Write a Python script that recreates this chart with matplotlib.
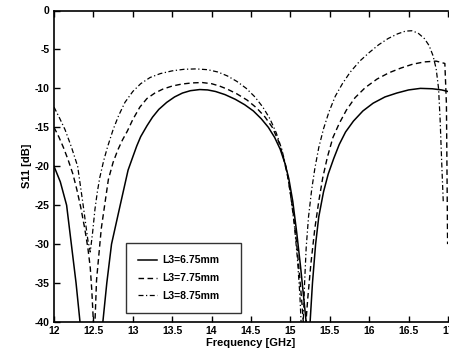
import matplotlib
matplotlib.use("Agg")
import matplotlib.pyplot as plt

plt.rcParams['font.family'] = ['Liberation Sans', 'DejaVu Sans']

# L3 = 6.75 mm (solid)
f_a = [12.00, 12.08, 12.16, 12.22, 12.28, 12.33, 12.40, 12.50, 12.58, 12.62, 12.67, 12.73, 12.84,
       12.94, 13.00, 13.05, 13.10, 13.18, 13.25, 13.33, 13.43, 13.53, 13.63, 13.73, 13.85, 13.95,
       14.05, 14.17, 14.30, 14.42, 14.53, 14.63, 14.72, 14.80, 14.87, 14.93, 14.98, 15.03, 15.08,
       15.13, 15.17, 15.20, 15.22, 15.25, 15.28, 15.32, 15.36, 15.42, 15.48, 15.55, 15.62, 15.70,
       15.80, 15.92, 16.05, 16.20, 16.35, 16.50, 16.65, 16.80, 16.92, 17.00]
s_a = [-20.0, -22.0, -25.0, -30.0, -35.0, -40.0, -44.0, -46.0, -44.0, -40.0, -35.0, -30.0, -25.0,
       -20.5, -18.8, -17.4, -16.2, -14.8, -13.7, -12.7, -11.8, -11.1, -10.6, -10.3, -10.15, -10.2,
       -10.4, -10.8, -11.4, -12.1, -12.9, -13.9, -15.0, -16.3, -17.8, -19.6, -21.6, -24.5, -28.5,
       -33.0, -37.0, -40.0, -43.0, -40.0, -35.0, -30.0, -26.5, -23.3, -21.0, -19.0, -17.2, -15.6,
       -14.2, -12.9, -11.9, -11.1, -10.6, -10.2, -10.0, -10.05, -10.2, -10.4]

# L3 = 7.75 mm (dashed)
f_b = [12.00, 12.06, 12.12, 12.18, 12.24, 12.29, 12.34, 12.39, 12.43, 12.46, 12.48, 12.50, 12.51,
       12.52, 12.54, 12.60, 12.69, 12.75, 12.81, 12.87, 12.93, 13.00, 13.09, 13.18, 13.28, 13.38,
       13.50, 13.62, 13.75, 13.88, 14.00, 14.10, 14.20, 14.32, 14.45, 14.57, 14.68, 14.77, 14.85,
       14.91, 14.97, 15.03, 15.08, 15.12, 15.15, 15.17, 15.19, 15.22, 15.26, 15.31, 15.36, 15.41,
       15.47, 15.54, 15.62, 15.71, 15.82, 15.95, 16.10, 16.25, 16.40, 16.55, 16.70, 16.85, 16.96,
       16.98, 16.995]
s_b = [-15.0, -16.2, -17.6, -19.2, -21.0, -23.0, -25.3, -28.0, -30.5, -33.0, -36.0, -40.0, -42.0,
       -40.0, -34.6, -28.0, -21.7, -19.5, -17.9, -16.6, -15.5, -14.0, -12.4, -11.3, -10.6, -10.1,
       -9.7, -9.45, -9.3, -9.25, -9.4, -9.7, -10.1, -10.7, -11.5, -12.5, -13.7, -15.0, -16.8,
       -18.8, -21.5, -25.5, -30.0, -34.5, -38.0, -41.0, -41.0, -37.0, -32.5, -28.0, -24.5, -21.5,
       -18.8, -16.3, -14.5, -12.8, -11.2, -9.9, -8.8, -8.0, -7.4, -6.9, -6.6, -6.5, -6.8,
       -12.0, -30.0]

# L3 = 8.75 mm (dash-dot)
f_c = [12.00, 12.07, 12.14, 12.22, 12.30, 12.37, 12.43, 12.46, 12.49, 12.52, 12.55, 12.58, 12.63,
       12.68, 12.75, 12.82, 12.90, 13.00, 13.10, 13.22, 13.35, 13.50, 13.65, 13.80, 13.95, 14.08,
       14.20, 14.32, 14.44, 14.55, 14.65, 14.74, 14.82, 14.89, 14.95, 15.00, 15.05, 15.09, 15.12,
       15.14, 15.16, 15.18, 15.20, 15.23, 15.27, 15.31, 15.36, 15.42, 15.49, 15.57, 15.66, 15.76,
       15.88, 16.00, 16.12, 16.24, 16.36, 16.46, 16.54, 16.62, 16.70, 16.76, 16.81, 16.85, 16.88,
       16.90, 16.92, 16.94]
s_c = [-12.4, -13.8, -15.3, -17.5, -20.0, -25.0, -29.5, -31.0, -28.5, -25.5, -23.3, -21.5, -19.3,
       -17.5, -15.3, -13.5, -11.8, -10.4, -9.4, -8.6, -8.1, -7.75, -7.55, -7.5, -7.6, -7.9,
       -8.4, -9.1, -10.0, -11.1, -12.4, -13.9, -15.7, -17.8, -20.3, -23.5, -27.5, -32.0, -36.5,
       -41.0, -41.0, -35.0, -30.5, -26.5, -23.0, -20.3, -17.6, -15.2, -13.0, -11.0, -9.4, -7.9,
       -6.5, -5.4, -4.4, -3.6, -3.0, -2.65, -2.6, -2.9, -3.6, -4.5, -5.8, -7.5, -10.0,
       -14.0, -19.5, -24.6]

labels = ['L3=6.75mm', 'L3=7.75mm', 'L3=8.75mm']
xticks = [12, 12.5, 13, 13.5, 14, 14.5, 15, 15.5, 16, 16.5, 17]
xticklabels = ['12', '12.5', '13', '13.5', '14', '14.5', '15', '15.5', '16', '16.5', '17']
yticks = [0, -5, -10, -15, -20, -25, -30, -35, -40]

W, H = 449, 349
fig = plt.figure(figsize=(W / 100, H / 100), dpi=100)
ax = fig.add_axes([54 / W, (H - 322) / H, 394 / W, 311.5 / H])

ax.plot(f_a, s_a, color='black', lw=1.1, linestyle='-', label=labels[0])
ax.plot(f_b, s_b, color='black', lw=1.0, linestyle=(0, (4, 2.5)), label=labels[1])
ax.plot(f_c, s_c, color='black', lw=0.9, linestyle=(0, (4, 2, 1, 2)), label=labels[2])

ax.set_xlim(12, 17)
ax.set_ylim(-40, 0)
ax.set_xticks(xticks)
ax.set_xticklabels(xticklabels)
ax.set_yticks(yticks)
ax.set_yticklabels([str(v) for v in yticks])
ax.tick_params(direction='in', length=4, width=1, labelsize=7.5, top=True, right=False, pad=3)
for lab in ax.get_xticklabels() + ax.get_yticklabels():
    lab.set_fontweight('bold')
ax.spines['right'].set_visible(False)
for s in ['left', 'top', 'bottom']:
    ax.spines[s].set_linewidth(1.2)

ax.set_xlabel('Frequency [GHz]', fontsize=8, fontweight='bold', labelpad=1)
ax.set_ylabel('S11 [dB]', fontsize=8, fontweight='bold', labelpad=2)

leg = ax.legend(loc='lower left', bbox_to_anchor=(0.183, 0.029, 0.292, 0.25), mode='expand',
                fontsize=7.5, frameon=True, fancybox=False, edgecolor='black',
                handlelength=1.8, handletextpad=0.5, labelspacing=0.75, borderpad=1.15,
                borderaxespad=0)
leg.get_frame().set_linewidth(1.0)
for t in leg.get_texts():
    t.set_fontweight('bold')

fig.savefig('out.png', dpi=100)
